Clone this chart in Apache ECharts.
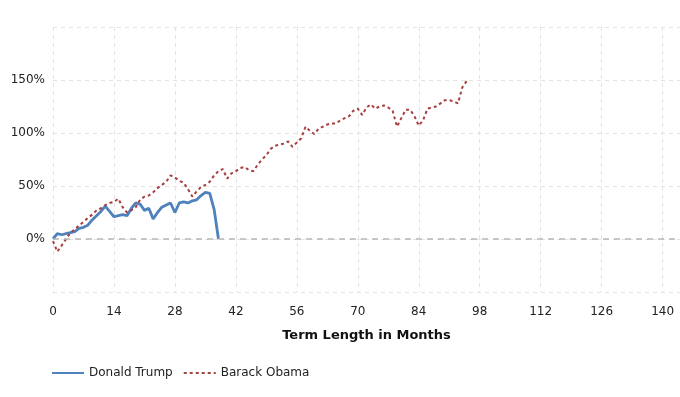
<!DOCTYPE html>
<html>
<head>
<meta charset="utf-8">
<script src="https://cdn.jsdelivr.net/npm/echarts@6/dist/echarts.min.js"></script>
<style>
html, body { margin: 0; padding: 0; background: #fff; }
#chart_id { width: 680px; height: 397px; }
</style>
</head>
<body>
<div id="chart_id"></div>
<script>
// 数据 (month index = position in array)
var trump_data = [0, 5, 4, 5, 6, 7, 10, 11, 13, 18, 22, 26, 31, 26, 21, 22, 23, 22, 29, 34,
	33, 27, 29, 19, 25, 30, 32, 34, 25, 34, 35, 34, 36, 37, 41, 44, 43, 28, 0];
var obama_data = [-2, -12, -6, 0, 6, 9, 13, 16, 20, 23, 27, 29, 32, 34, 35, 38, 30, 25, 27, 30,
	37, 40, 41, 44, 48, 51, 54, 60, 58, 55, 53, 47, 40, 45, 49, 51, 54, 60, 64, 66,
	57, 62, 64, 67, 68, 65, 64, 70, 75, 79, 85, 88, 89, 90, 92, 87, 91, 95, 106, 102,
	99, 104, 106, 108, 109, 109, 112, 114, 116, 121, 123, 117, 124, 127, 123, 125, 126, 124, 121, 106,
	114, 122, 122, 116, 107, 112, 123, 124, 125, 128, 131, 131, 130, 128, 143, 149];
var series_names = ['Donald Trump', 'Barack Obama'];
var x_ticks = [0, 14, 28, 42, 56, 70, 84, 98, 112, 126, 140];
var y_ticks = [0, 50, 100, 150];

function toPairs(arr) {
	var out = [];
	for (var i = 0; i < arr.length; i++) out.push([i, arr[i]]);
	return out;
}

var myChart = echarts.init(document.getElementById('chart_id'));
var font = 'DejaVu Sans, Verdana, sans-serif';

option = {
	animation: false,
	textStyle: { fontFamily: font },
	grid: { left: 53, right: 0, top: 27, bottom: 105 },
	legend: {
		left: 46,
		top: 362,
		itemWidth: 32,
		itemHeight: 12,
		itemGap: 10,
		itemStyle: { opacity: 0, borderWidth: 0 },
		textStyle: { fontFamily: font, fontSize: 12, color: '#222' },
		data: series_names
	},
	xAxis: {
		type: 'value',
		min: 0,
		max: 144,
		interval: 14,
		name: 'Term Length in Months',
		nameLocation: 'middle',
		nameGap: 37,
		nameTextStyle: { fontFamily: font, fontSize: 13, fontWeight: 'bold', color: '#111' },
		axisLine: { show: false },
		axisTick: { show: false },
		axisLabel: {
			margin: 14,
			color: '#222',
			fontSize: 12,
			showMaxLabel: false,
			formatter: function(v) { return x_ticks.indexOf(v) >= 0 ? v : ''; }
		},
		splitLine: { show: true, lineStyle: { color: '#e3e3e3', type: [4, 4] } }
	},
	yAxis: {
		type: 'value',
		min: -50,
		max: 200,
		interval: 50,
		axisLine: { show: false },
		axisTick: { show: false },
		axisLabel: {
			margin: 8,
			color: '#222',
			fontSize: 12,
			formatter: function(v) { return y_ticks.indexOf(v) >= 0 ? v + '%' : ''; }
		},
		splitLine: { show: true, lineStyle: { color: '#e3e3e3', type: [4, 4] } }
	},
	series: [{
		name: series_names[0],
		type: 'line',
		data: toPairs(trump_data),
		showSymbol: false,
		symbol: 'none',
		z: 3,
		itemStyle: { color: '#4f81bd' },
		lineStyle: { color: '#4f81bd', width: 2.8 },
		markLine: {
			silent: true,
			symbol: 'none',
			label: { show: false },
			lineStyle: { color: '#b8b8b8', type: [6, 5], width: 1.5 },
			data: [{ yAxis: 0 }]
		}
	}, {
		name: series_names[1],
		type: 'line',
		data: toPairs(obama_data),
		showSymbol: false,
		symbol: 'none',
		z: 4,
		itemStyle: { color: '#a5403f' },
		lineStyle: { color: '#a5403f', width: 2, type: [3, 3] }
	}]
};

myChart.setOption(option);
</script>
</body>
</html>
